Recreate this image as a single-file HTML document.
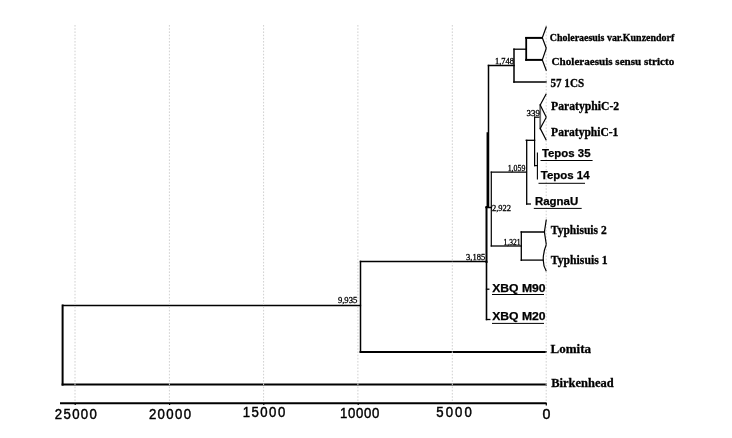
<!DOCTYPE html>
<html><head><meta charset="utf-8">
<style>
html,body{margin:0;padding:0;background:#fff;}
svg{display:block;will-change:transform;}
.sf{font-family:"Liberation Serif",serif;font-weight:bold;fill:#000;}
.ss{font-family:"Liberation Sans",sans-serif;font-weight:bold;fill:#000;}
.sr{font-family:"Liberation Sans",sans-serif;font-weight:normal;fill:#000;}
.nl{font-family:"Liberation Serif",serif;font-weight:normal;fill:#000;}
</style></head><body>
<svg width="732" height="438" viewBox="0 0 732 438">
<rect width="732" height="438" fill="#fff"/>
<!-- axis -->
<g stroke="#000" fill="none">
<line x1="60" y1="403.2" x2="546.6" y2="403.2" stroke-width="1.9"/>
<g stroke-width="1.2"><line x1="75.2" y1="403" x2="75.2" y2="405"/><line x1="169.6" y1="403" x2="169.6" y2="405"/><line x1="263.8" y1="403" x2="263.8" y2="405"/><line x1="358.2" y1="403" x2="358.2" y2="405"/><line x1="546.3" y1="403" x2="546.3" y2="405.5"/></g>
</g>
<g class="sr" font-size="15" text-anchor="middle" stroke="#000" stroke-width="0.45">
<text transform="translate(75.8,418.8) scale(0.88,1)" x="0" y="0" textLength="47.70" lengthAdjust="spacing">25000</text>
<text transform="translate(170,418.9) scale(0.88,1)" x="0" y="0" textLength="47.93" lengthAdjust="spacing">20000</text>
<text transform="translate(264,417.3) scale(0.88,1)" x="0" y="0" textLength="48.38" lengthAdjust="spacing">15000</text>
<text transform="translate(359.7,417.5) scale(0.88,1)" x="0" y="0" textLength="44.52" lengthAdjust="spacing">10000</text>
<text transform="translate(454,416.5) scale(0.88,1)" x="0" y="0" textLength="40.31" lengthAdjust="spacing">5000</text>
<text transform="translate(546.4,418.5) scale(0.95,1)" x="0" y="0">0</text>
</g>
<!-- tree -->
<g stroke="#000" fill="none" stroke-linecap="square">
<line x1="62.6" y1="305.5" x2="62.6" y2="384.6" stroke-width="2"/>
<line x1="62.6" y1="305.5" x2="360.5" y2="305.5" stroke-width="1.3"/>
<line x1="62.6" y1="384.6" x2="546" y2="384.6" stroke-width="2"/>
<line x1="360.5" y1="261.5" x2="360.5" y2="351.9" stroke-width="1.5"/>
<line x1="360.5" y1="261.5" x2="486.5" y2="261.5" stroke-width="1.5"/>
<line x1="360.5" y1="351.9" x2="546" y2="351.9" stroke-width="2"/>
<line x1="486.5" y1="207" x2="486.5" y2="262" stroke-width="2"/>
<line x1="486.5" y1="262" x2="486.5" y2="319.5" stroke-width="1.6"/>
<line x1="486.5" y1="289.2" x2="488.8" y2="289.2" stroke-width="1.3"/>
<line x1="486.5" y1="319.5" x2="489.8" y2="319.5" stroke-width="1.3"/>
<line x1="488.5" y1="65.5" x2="488.5" y2="207" stroke-width="1.5"/>
<line x1="487.3" y1="133" x2="487.3" y2="207" stroke-width="1.5"/>
<line x1="486" y1="207.5" x2="491.3" y2="207.5" stroke-width="1.5"/>
<line x1="488.5" y1="65.5" x2="514" y2="65.5" stroke-width="1.5"/>
<line x1="514" y1="49.2" x2="514" y2="82.1" stroke-width="1.5"/>
<line x1="514" y1="49.2" x2="526.2" y2="49.2" stroke-width="1.3"/>
<line x1="514" y1="82.1" x2="546" y2="82.1" stroke-width="1.5"/>
<line x1="526.2" y1="37.9" x2="526.2" y2="59.9" stroke-width="1.8"/>
<line x1="526.2" y1="37.9" x2="542" y2="37.9" stroke-width="2"/>
<line x1="526.2" y1="59.9" x2="542" y2="59.9" stroke-width="2"/>
<line x1="491.3" y1="172.1" x2="491.3" y2="246" stroke-width="1.2"/>
<line x1="491.3" y1="172.1" x2="526.2" y2="172.1" stroke-width="1.3"/>
<line x1="491.3" y1="246" x2="521.3" y2="246" stroke-width="1.3"/>
<line x1="526.7" y1="140.3" x2="526.7" y2="204" stroke-width="1.3"/>
<line x1="526.7" y1="204" x2="530.3" y2="204" stroke-width="1.3"/>
<line x1="526.2" y1="140.3" x2="534.6" y2="140.3" stroke-width="1.3"/>
<line x1="534.6" y1="117.2" x2="534.6" y2="165.6" stroke-width="1.2"/>
<line x1="534.6" y1="117.2" x2="540" y2="117.2" stroke-width="1.2"/>
<line x1="540.2" y1="105" x2="540.2" y2="128.4" stroke-width="1.8" stroke="#666"/>
<line x1="534.6" y1="165.6" x2="537.4" y2="165.6" stroke-width="1.2"/>
<line x1="537.4" y1="153" x2="537.4" y2="178.9" stroke-width="1.1"/>
<line x1="521.3" y1="232" x2="521.3" y2="260.3" stroke-width="1.3"/>
<line x1="521.3" y1="232" x2="544.4" y2="232" stroke-width="1.5"/>
<line x1="521.3" y1="260.1" x2="543.2" y2="260.1" stroke-width="1.3"/>
</g>
<!-- grid -->
<g stroke="#d0d0d0" stroke-width="1" stroke-dasharray="1.6,1.6" fill="none">
<line x1="75" y1="25" x2="75" y2="402"/>
<line x1="169.4" y1="25" x2="169.4" y2="402"/>
<line x1="263.6" y1="25" x2="263.6" y2="402"/>
<line x1="357.9" y1="25" x2="357.9" y2="402"/>
<line x1="452.3" y1="25" x2="452.3" y2="402"/>
<line x1="546.2" y1="25" x2="546.2" y2="402"/>
</g>
<!-- collapsed clades -->
<g stroke="#000" fill="none" stroke-width="1.2">
<path d="M546.4,26.5 L542.3,37.8 L546.3,48.2"/>
<path d="M546.3,48.2 L542.3,59.9 L546.4,70.7"/>
<path d="M546.3,93.8 L540.2,105 L546.3,117.2"/>
<path d="M546.3,117.2 L540.2,128.4 L546.3,140.2"/>
<path d="M546.3,219.5 L544.4,232 L546.3,244.5"/>
<path d="M546.3,244.5 Q543.2,252 543.2,259.8 Q543.2,266 546.3,271.3"/>
</g>
<!-- node labels -->
<g class="nl" font-size="8.6" stroke="#000" stroke-width="0.3">
<text x="495" y="64.3" textLength="19" lengthAdjust="spacingAndGlyphs">1,748</text>
<text x="526.6" y="116.1" textLength="13.3" lengthAdjust="spacingAndGlyphs">339</text>
<text x="507.7" y="170.7" textLength="17.7" lengthAdjust="spacingAndGlyphs">1,059</text>
<text x="492" y="211.4" textLength="19.1" lengthAdjust="spacingAndGlyphs">2,922</text>
<text x="503.6" y="244.9" textLength="17" lengthAdjust="spacingAndGlyphs">1,321</text>
<text x="466.1" y="260.1" textLength="19.2" lengthAdjust="spacingAndGlyphs">3,185</text>
<text x="337.9" y="302.9" textLength="19.4" lengthAdjust="spacingAndGlyphs">9,935</text>
</g>
<!-- leaf labels serif -->
<g class="sf" stroke="#000" stroke-width="0.3">
<text x="549.8" y="40.5" font-size="9.7" textLength="124.4" lengthAdjust="spacingAndGlyphs">Choleraesuis var.Kunzendorf</text>
<text x="551.6" y="64.9" font-size="11.1" textLength="122.6" lengthAdjust="spacingAndGlyphs">Choleraesuis sensu stricto</text>
<text x="550.5" y="86.6" font-size="12.2" textLength="33.6" lengthAdjust="spacingAndGlyphs">57 1CS</text>
<text x="551.1" y="110" font-size="11.6" textLength="68.1" lengthAdjust="spacingAndGlyphs">ParatyphiC-2</text>
<text x="551.1" y="135.6" font-size="11.6" textLength="67.3" lengthAdjust="spacingAndGlyphs">ParatyphiC-1</text>
<text x="550.8" y="233.6" font-size="12.5" textLength="55.9" lengthAdjust="spacingAndGlyphs">Typhisuis 2</text>
<text x="550.8" y="264" font-size="12.5" textLength="56.7" lengthAdjust="spacingAndGlyphs">Typhisuis 1</text>
<text x="550.5" y="353.4" font-size="13.4" textLength="40.5" lengthAdjust="spacingAndGlyphs">Lomita</text>
<text x="551.3" y="387.1" font-size="13.2" textLength="62.3" lengthAdjust="spacingAndGlyphs">Birkenhead</text>
</g>
<!-- leaf labels sans underlined -->
<g class="ss" font-size="10.5" stroke="#000" stroke-width="0.25">
<text x="541.9" y="157.4" textLength="48.6" lengthAdjust="spacingAndGlyphs">Tepos 35</text>
<text x="540.8" y="178.6" textLength="48.8" lengthAdjust="spacingAndGlyphs">Tepos 14</text>
<text x="535" y="205" textLength="43.2" lengthAdjust="spacingAndGlyphs">RagnaU</text>
<text x="492.2" y="291.8" textLength="53.4" lengthAdjust="spacingAndGlyphs">XBQ M90</text>
<text x="492.2" y="319.7" textLength="53.4" lengthAdjust="spacingAndGlyphs">XBQ M20</text>
</g>
<g stroke="#000" stroke-width="1">
<line x1="540.5" y1="160.5" x2="592.6" y2="160.5"/>
<line x1="538.5" y1="183.3" x2="585" y2="183.3"/>
<line x1="533.8" y1="208.4" x2="581.7" y2="208.4"/>
<line x1="492" y1="294.5" x2="544" y2="294.5"/>
<line x1="492" y1="323.4" x2="544" y2="323.4"/>
</g>
</svg>
</body></html>
